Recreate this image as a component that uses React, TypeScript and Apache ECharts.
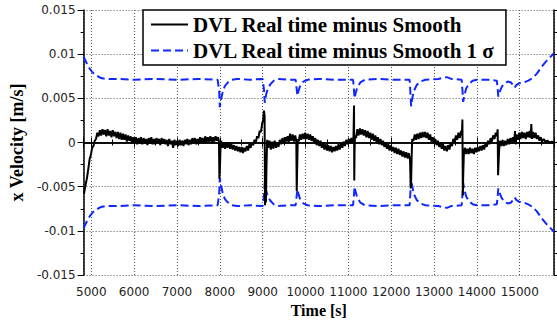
import React, { useEffect, useRef } from 'react';
import * as echarts from 'echarts';

const seriesNames = ['DVL Real time minus Smooth', 'DVL Real time minus Smooth 1 σ'];
const xTitle = 'Time [s]';
const yTitle = 'x Velocity [m/s]';
const xRange = [4820, 15800];
const yRange = [-0.015, 0.015];

// [time (s), velocity difference (m/s)]
const realTimeMinusSmooth: [number, number][] = [
  [4830, -0.0058], [4850, -0.0052], [4870, -0.0047], [4900, -0.0040], [4930, -0.0030], [4960, -0.0019],
  [4990, -0.0014], [5020, -0.0006], [5050, -0.0004], [5080, 0.0002], [5110, 0.0004], [5140, 0.0011],
  [5170, 0.0007], [5200, 0.0014], [5230, 0.0008], [5260, 0.0015], [5290, 0.0009], [5320, 0.0014],
  [5350, 0.0007], [5380, 0.0015], [5410, 0.0008], [5440, 0.0013], [5470, 0.0006], [5500, 0.0014],
  [5530, 0.0007], [5560, 0.0012], [5590, 0.0005], [5620, 0.0012], [5650, 0.0004], [5680, 0.0011],
  [5710, 0.0003], [5740, 0.0010], [5770, 0.0003], [5800, 0.0009], [5830, 0.0001], [5860, 0.0008],
  [5890, 0.0002], [5920, 0.0007], [5950, -0.0001], [5980, 0.0006], [6010, 0.0000], [6040, 0.0006],
  [6070, -0.0002], [6100, 0.0005], [6130, -0.0001], [6160, 0.0006], [6190, -0.0002], [6220, 0.0005],
  [6250, -0.0001], [6280, 0.0004], [6310, -0.0003], [6340, 0.0005], [6370, -0.0001], [6400, 0.0006],
  [6430, -0.0002], [6460, 0.0004], [6490, -0.0002], [6520, 0.0005], [6550, 0.0000], [6580, 0.0004],
  [6610, -0.0003], [6640, 0.0005], [6670, -0.0001], [6700, 0.0004], [6730, -0.0002], [6760, 0.0003],
  [6790, -0.0004], [6820, 0.0004], [6850, -0.0002], [6880, 0.0002], [6910, -0.0006], [6940, 0.0003],
  [6970, -0.0003], [7000, 0.0002], [7030, -0.0004], [7060, 0.0003], [7090, -0.0003], [7120, 0.0002],
  [7150, -0.0004], [7180, 0.0003], [7210, -0.0002], [7240, 0.0004], [7270, -0.0003], [7300, 0.0003],
  [7330, -0.0002], [7360, 0.0005], [7390, -0.0001], [7420, 0.0005], [7450, -0.0002], [7480, 0.0004],
  [7510, -0.0001], [7540, 0.0006], [7570, 0.0000], [7600, 0.0005], [7630, -0.0001], [7660, 0.0007],
  [7690, 0.0000], [7720, 0.0006], [7750, 0.0001], [7780, 0.0007], [7810, 0.0000], [7840, 0.0006],
  [7870, 0.0001], [7900, 0.0007], [7930, 0.0002], [7960, 0.0006], [7980, 0.0001], [7990, -0.0041],
  [8000, -0.0033], [8015, -0.0008], [8030, 0.0002], [8060, -0.0006], [8090, 0.0000], [8120, -0.0007],
  [8150, -0.0001], [8180, -0.0006], [8210, 0.0000], [8240, -0.0007], [8270, -0.0002], [8300, -0.0008],
  [8330, -0.0003], [8360, -0.0009], [8390, -0.0004], [8420, -0.0010], [8450, -0.0005], [8480, -0.0011],
  [8510, -0.0005], [8540, -0.0012], [8570, -0.0006], [8600, -0.0010], [8630, -0.0004], [8660, -0.0009],
  [8690, -0.0002], [8720, -0.0006], [8750, 0.0000], [8780, -0.0003], [8810, 0.0003], [8840, 0.0000],
  [8870, 0.0007], [8900, 0.0005], [8930, 0.0013], [8960, 0.0012], [8990, 0.0022], [9010, 0.0025],
  [9030, 0.0036], [9045, 0.0030], [9055, -0.0071], [9065, -0.0040], [9075, -0.0068], [9090, -0.0025],
  [9105, 0.0003], [9130, -0.0006], [9160, 0.0002], [9190, -0.0008], [9220, 0.0001], [9250, -0.0007],
  [9280, 0.0002], [9310, -0.0006], [9340, 0.0000], [9370, -0.0005], [9400, 0.0003], [9430, -0.0002],
  [9460, 0.0005], [9490, -0.0001], [9520, 0.0006], [9550, 0.0001], [9580, 0.0007], [9610, 0.0000],
  [9640, 0.0010], [9670, 0.0002], [9700, 0.0009], [9730, 0.0001], [9760, 0.0008], [9785, 0.0002],
  [9795, -0.0055], [9805, -0.0030], [9820, 0.0004], [9840, 0.0001], [9870, 0.0009], [9900, 0.0003],
  [9930, 0.0010], [9960, 0.0004], [9990, 0.0011], [10020, 0.0004], [10050, 0.0010], [10080, 0.0003],
  [10110, 0.0009], [10140, 0.0002], [10170, 0.0007], [10200, 0.0000], [10230, 0.0005], [10260, -0.0003],
  [10290, 0.0003], [10320, -0.0004], [10350, 0.0002], [10380, -0.0006], [10410, 0.0000], [10440, -0.0008],
  [10470, -0.0002], [10500, -0.0009], [10530, -0.0003], [10560, -0.0010], [10590, -0.0004], [10620, -0.0011],
  [10650, -0.0005], [10680, -0.0010], [10710, -0.0004], [10740, -0.0009], [10770, -0.0002], [10800, -0.0008],
  [10830, -0.0001], [10860, -0.0006], [10890, 0.0001], [10920, -0.0004], [10950, 0.0003], [10980, -0.0002],
  [11010, 0.0004], [11040, -0.0001], [11070, 0.0005], [11100, 0.0000], [11120, 0.0006], [11132, 0.0042],
  [11138, -0.0043], [11145, -0.0010], [11155, 0.0008], [11180, 0.0005], [11210, 0.0015], [11240, 0.0008],
  [11270, 0.0016], [11300, 0.0009], [11330, 0.0015], [11360, 0.0008], [11390, 0.0014], [11420, 0.0006],
  [11450, 0.0013], [11480, 0.0005], [11510, 0.0011], [11540, 0.0003], [11570, 0.0010], [11600, 0.0002],
  [11630, 0.0008], [11660, 0.0000], [11690, 0.0006], [11720, -0.0002], [11750, 0.0004], [11780, -0.0003],
  [11810, 0.0002], [11840, -0.0005], [11870, 0.0000], [11900, -0.0007], [11930, -0.0002], [11960, -0.0009],
  [11990, -0.0003], [12020, -0.0010], [12050, -0.0005], [12080, -0.0012], [12110, -0.0006], [12140, -0.0013],
  [12170, -0.0007], [12200, -0.0014], [12230, -0.0009], [12260, -0.0016], [12290, -0.0010], [12320, -0.0017],
  [12350, -0.0011], [12380, -0.0018], [12410, -0.0012], [12440, -0.0020], [12455, -0.0052], [12465, -0.0045],
  [12478, -0.0015], [12490, 0.0004], [12520, 0.0002], [12550, 0.0009], [12580, 0.0003], [12610, 0.0010],
  [12640, 0.0004], [12670, 0.0011], [12700, 0.0005], [12730, 0.0012], [12760, 0.0006], [12790, 0.0012],
  [12820, 0.0005], [12850, 0.0011], [12880, 0.0003], [12910, 0.0009], [12940, 0.0001], [12970, 0.0006],
  [13000, -0.0001], [13030, 0.0004], [13060, -0.0003], [13090, 0.0002], [13120, -0.0005], [13150, 0.0000],
  [13180, -0.0007], [13210, -0.0002], [13240, -0.0009], [13270, -0.0004], [13300, -0.0010], [13330, -0.0003],
  [13360, -0.0008], [13390, 0.0000], [13420, -0.0004], [13450, 0.0004], [13480, 0.0000], [13510, 0.0008],
  [13540, 0.0003], [13570, 0.0011], [13600, 0.0005], [13630, 0.0013], [13650, 0.0008], [13662, 0.0026],
  [13672, -0.0060], [13682, -0.0035], [13695, -0.0014], [13720, -0.0006], [13750, -0.0013], [13780, -0.0007],
  [13810, -0.0013], [13840, -0.0006], [13870, -0.0012], [13900, -0.0007], [13930, -0.0013], [13960, -0.0006],
  [13990, -0.0011], [14020, -0.0005], [14050, -0.0010], [14080, -0.0004], [14110, -0.0009], [14140, -0.0003],
  [14170, -0.0008], [14200, -0.0001], [14230, -0.0005], [14260, 0.0002], [14290, -0.0002], [14320, 0.0005],
  [14350, 0.0001], [14380, 0.0008], [14410, 0.0004], [14440, 0.0011], [14465, 0.0007], [14485, 0.0015],
  [14495, -0.0037], [14505, -0.0025], [14520, -0.0008], [14540, 0.0002], [14570, -0.0004], [14600, 0.0003],
  [14630, -0.0004], [14660, 0.0002], [14690, -0.0003], [14720, 0.0004], [14750, -0.0002], [14780, 0.0005],
  [14810, -0.0001], [14840, 0.0006], [14870, 0.0001], [14890, 0.0013], [14905, -0.0002], [14930, 0.0009],
  [14960, 0.0003], [14990, 0.0011], [15020, 0.0004], [15050, 0.0012], [15080, 0.0005], [15110, 0.0011],
  [15140, 0.0004], [15170, 0.0012], [15200, 0.0006], [15230, 0.0013], [15255, 0.0005], [15270, 0.0021],
  [15285, 0.0004], [15310, 0.0012], [15340, 0.0005], [15370, 0.0011], [15400, 0.0004], [15430, 0.0008],
  [15460, 0.0002], [15490, 0.0006], [15520, 0.0001], [15560, 0.0004], [15600, 0.0001], [15650, 0.0002],
  [15700, 0.0000], [15750, 0.0001], [15800, -0.0001],
];

// [time (s), 1 sigma (m/s)]
const oneSigma: [number, number][] = [
  [4820, 0.0097], [4870, 0.0092], [4920, 0.0087], [4970, 0.0083], [5020, 0.0080], [5080, 0.0077],
  [5150, 0.0075], [5230, 0.0073], [5320, 0.0072], [5600, 0.0072], [6000, 0.0071], [6500, 0.0072],
  [7000, 0.0071], [7500, 0.0072], [7950, 0.0071], [7985, 0.0058], [8000, 0.0040], [8030, 0.0049],
  [8070, 0.0058], [8120, 0.0064], [8190, 0.0068], [8280, 0.0071], [8400, 0.0072], [8700, 0.0071],
  [9000, 0.0072], [9030, 0.0060], [9050, 0.0045], [9080, 0.0054], [9120, 0.0061], [9180, 0.0066],
  [9260, 0.0070], [9360, 0.0072], [9600, 0.0071], [9770, 0.0071], [9795, 0.0060], [9810, 0.0053],
  [9840, 0.0059], [9880, 0.0065], [9950, 0.0069], [10050, 0.0071], [10300, 0.0072], [10700, 0.0071],
  [11110, 0.0071], [11130, 0.0060], [11145, 0.0050], [11175, 0.0057], [11215, 0.0063], [11280, 0.0068],
  [11380, 0.0071], [11700, 0.0072], [12100, 0.0071], [12430, 0.0071], [12450, 0.0055], [12465, 0.0041],
  [12495, 0.0051], [12535, 0.0059], [12595, 0.0065], [12680, 0.0069], [12800, 0.0071], [13100, 0.0072],
  [13300, 0.0074], [13400, 0.0072], [13645, 0.0071], [13665, 0.0058], [13680, 0.0046], [13710, 0.0054],
  [13750, 0.0061], [13810, 0.0066], [13900, 0.0070], [14000, 0.0071], [14300, 0.0071], [14465, 0.0070],
  [14485, 0.0061], [14500, 0.0052], [14530, 0.0057], [14580, 0.0063], [14640, 0.0067], [14720, 0.0069],
  [14800, 0.0068], [14850, 0.0064], [14880, 0.0062], [14920, 0.0065], [14980, 0.0067], [15100, 0.0068],
  [15200, 0.0070], [15300, 0.0073], [15400, 0.0078], [15500, 0.0085], [15600, 0.0091], [15700, 0.0096],
  [15800, 0.0101],
];

const TICK_FONT = 'DejaVu Sans';
const SERIF = 'Liberation Serif';

export default function App() {
  const ref = useRef<HTMLDivElement>(null);

  useEffect(() => {
    if (!ref.current) return;
    const chart = echarts.init(ref.current, undefined, { renderer: 'svg' });

    const upper = oneSigma.map(([t, s]) => [t, s]);
    const lower = oneSigma.map(([t, s]) => [t, -s]);

    const axisLine = { show: true, lineStyle: { color: '#000', width: 1.5 } };
    const baseX = {
      type: 'value',
      min: xRange[0],
      max: xRange[1],
      splitNumber: 11,
      axisLine,
      axisTick: { show: true, inside: false, length: 5, lineStyle: { color: '#000', width: 1 } },
      minorTick: { show: true, splitNumber: 2, length: 3, lineStyle: { color: '#000', width: 1 } },
    };
    const baseY = {
      type: 'value',
      min: yRange[0],
      max: yRange[1],
      interval: 0.005,
      axisLine,
      axisTick: { show: true, inside: false, length: 6, lineStyle: { color: '#000', width: 1 } },
      minorTick: { show: true, splitNumber: 2, length: 3, lineStyle: { color: '#000', width: 1 } },
    };

    chart.setOption({
      animation: false,
      backgroundColor: '#fff',
      grid: { left: 79, right: 3, top: 10, bottom: 49, containLabel: false },
      legend: {
        data: seriesNames,
        orient: 'vertical',
        left: 143,
        top: 10,
        padding: [4, 11, 4, 7],
        itemGap: 5,
        itemWidth: 37,
        itemHeight: 14,
        backgroundColor: '#fff',
        borderColor: '#000',
        borderWidth: 1.5,
        borderRadius: 0,
        itemStyle: { opacity: 0 },
        textStyle: { fontFamily: SERIF, fontWeight: 'bold', fontSize: 21, lineHeight: 21, color: '#000' },
      },
      xAxis: [
        {
          ...baseX,
          position: 'bottom',
          name: xTitle,
          nameLocation: 'middle',
          nameGap: 26,
          nameTextStyle: { fontFamily: SERIF, fontWeight: 'bold', fontSize: 16, color: '#000' },
          axisLabel: {
            show: true,
            margin: 11,
            fontFamily: TICK_FONT,
            fontSize: 12,
            color: '#222',
            showMinLabel: false,
            showMaxLabel: false,
            formatter: (v: number) => String(v),
          },
          splitLine: { show: true, lineStyle: { color: '#555', width: 1, type: [1, 2] } },
        },
        {
          ...baseX,
          position: 'top',
          axisLabel: { show: false },
          splitLine: { show: false },
        },
      ],
      yAxis: [
        {
          ...baseY,
          position: 'left',
          name: yTitle,
          nameLocation: 'middle',
          nameRotate: 90,
          nameGap: 53,
          nameTextStyle: { fontFamily: SERIF, fontWeight: 'bold', fontSize: 18, color: '#000' },
          axisLabel: {
            show: true,
            margin: 8,
            fontFamily: TICK_FONT,
            fontSize: 12,
            color: '#222',
            formatter: (v: number) => String(Math.round(v * 1000) / 1000),
          },
          splitLine: { show: true, lineStyle: { color: '#555', width: 1, type: [1, 2] } },
        },
        {
          ...baseY,
          position: 'right',
          axisLabel: { show: false },
          splitLine: { show: false },
        },
      ],
      series: [
        {
          name: seriesNames[0],
          type: 'line',
          xAxisIndex: 0,
          yAxisIndex: 0,
          data: realTimeMinusSmooth,
          symbol: 'none',
          showSymbol: false,
          lineStyle: { color: '#000', width: 2 },
          itemStyle: { color: '#000' },
          z: 3,
        },
        {
          name: seriesNames[1],
          type: 'line',
          xAxisIndex: 0,
          yAxisIndex: 0,
          data: upper,
          symbol: 'none',
          showSymbol: false,
          lineStyle: { color: '#1028ff', width: 2, type: [8, 4] },
          itemStyle: { color: '#1028ff' },
          z: 2,
        },
        {
          name: seriesNames[1],
          type: 'line',
          xAxisIndex: 0,
          yAxisIndex: 0,
          data: lower,
          symbol: 'none',
          showSymbol: false,
          lineStyle: { color: '#1028ff', width: 2, type: [8, 4] },
          itemStyle: { color: '#1028ff' },
          z: 2,
        },
      ],
    });

    return () => chart.dispose();
  }, []);

  return (
    <div
      ref={ref}
      style={{ position: 'absolute', left: 0, top: 0, width: 557, height: 324, background: '#fff' }}
    />
  );
}
